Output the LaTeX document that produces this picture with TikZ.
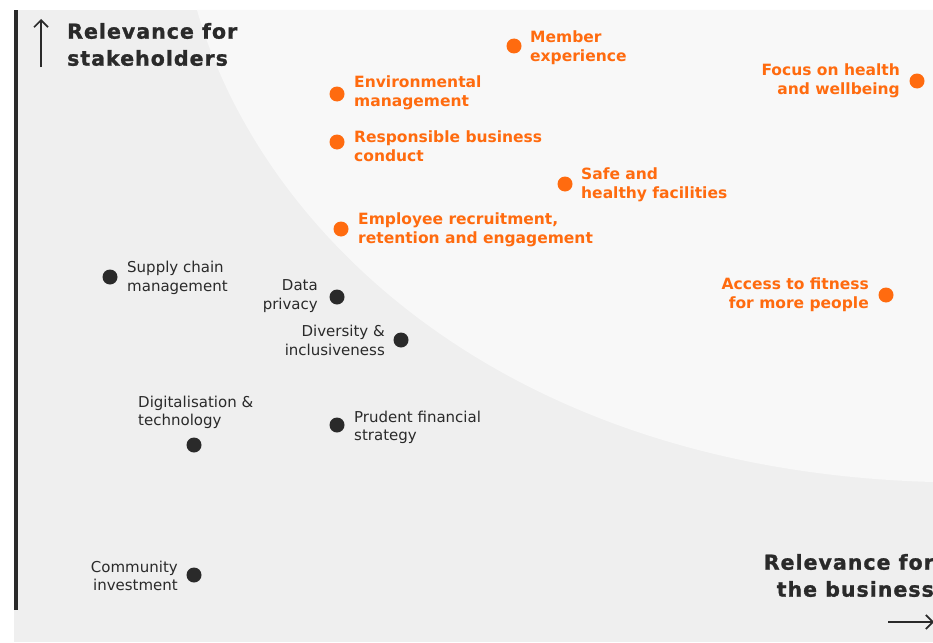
\documentclass[tikz,border=0pt]{standalone}
\usepackage{fontspec}
\setmainfont{DejaVu Sans}
\newfontfamily\headfont[LetterSpace=5,FakeBold=1.3]{DejaVu Sans Bold}
\usetikzlibrary{arrows.meta}
\definecolor{orng}{HTML}{FF6B0F}
\definecolor{dark}{HTML}{2A2A2A}
\definecolor{bggrey}{HTML}{EFEFEF}
\definecolor{bglight}{HTML}{F8F8F8}
\tikzset{
  odot/.style={circle, fill=orng, inner sep=0pt, minimum size=15pt},
  ddot/.style={circle, fill=dark, inner sep=0pt, minimum size=15pt},
  olab/.style={text=orng, font=\bfseries\fontsize{15.5}{19}\selectfont, inner sep=0pt, align=left},
  olabr/.style={text=orng, font=\bfseries\fontsize{15.5}{19}\selectfont, inner sep=0pt, align=right},
  dlab/.style={text=dark, font=\fontsize{15}{18.5}\selectfont, inner sep=0pt, align=left},
  dlabr/.style={text=dark, font=\fontsize{15}{18.5}\selectfont, inner sep=0pt, align=right},
  head/.style={text=dark, font=\headfont\fontsize{20.5}{27}\selectfont, inner sep=0pt},
  axarrow/.style={draw=dark, line width=1.7pt, -{Straight Barb[length=7pt, width=14pt, line width=1.7pt]}}
}
\begin{document}
\begin{tikzpicture}[x=1pt,y=-1pt]
\useasboundingbox (0,0) rectangle (933,642);
\fill[bggrey] (14,10) rectangle (933,642);
\fill[bglight] (197,10) .. controls (260,230) and (500,470) .. (933,482) -- (933,10) -- cycle;
\fill[dark] (14,10) rectangle (17.5,610);

% axes
\coordinate (ya) at (41,67);
\coordinate (yb) at (41,19);
\draw[axarrow] (ya) -- (yb);
\node[head, anchor=west, align=left] (ylab) at (67,44.5) {Relevance for\\stakeholders};
\coordinate (xa) at (888,622);
\coordinate (xb) at (934,622);
\draw[axarrow] (xa) -- (xb);
\node[head, anchor=east, align=right] (xlab) at (934,575.5) {Relevance for\\the business};

% orange items
\node[odot] (mem) at (514,46) {};
\node[olab, anchor=west] (memt) at (530,48) {Member\\experience};
\node[odot] (env) at (337,94) {};
\node[olab, anchor=west] (envt) at (354,93) {Environmental\\management};
\node[odot] (rbc) at (337,142) {};
\node[olab, anchor=west] (rbct) at (354,146) {Responsible business\\conduct};
\node[odot] (saf) at (565,184) {};
\node[olab, anchor=west] (saft) at (581,185) {Safe and\\healthy facilities};
\node[odot] (emp) at (341,229) {};
\node[olab, anchor=west] (empt) at (358,230) {Employee recruitment,\\retention and engagement};
\node[odot] (foc) at (917,81) {};
\node[olabr, anchor=east] (foct) at (900,80.5) {Focus on health\\and wellbeing};
\node[odot] (acc) at (886,295) {};
\node[olabr, anchor=east] (acct) at (869,295) {Access to fitness\\for more people};

% dark items
\node[ddot] (sup) at (110,277) {};
\node[dlab, anchor=west] (supt) at (127,278) {Supply chain\\management};
\node[ddot] (dat) at (337,297) {};
\node[dlabr, anchor=east] (datt) at (318,296) {Data\\privacy};
\node[ddot] (div) at (401,340) {};
\node[dlabr, anchor=east] (divt) at (385,340.5) {Diversity \&\\inclusiveness};
\node[ddot] (dig) at (194,445) {};
\node[dlab, anchor=west] (digt) at (138,412.5) {Digitalisation \&\\technology};
\node[ddot] (pru) at (337,425) {};
\node[dlab, anchor=west] (prut) at (354,427.5) {Prudent financial\\strategy};
\node[ddot] (com) at (194,575) {};
\node[dlabr, anchor=east] (comt) at (178,576) {Community\\investment};
\end{tikzpicture}
\end{document}
